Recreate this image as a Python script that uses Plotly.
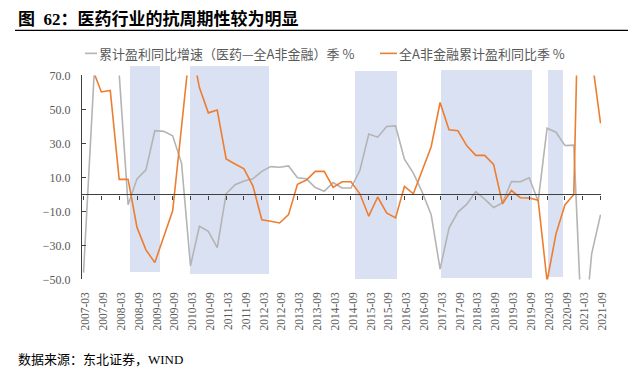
import plotly.graph_objects as go

# ---------------- data ----------------
quarters = [
    "2007-03", "2007-06", "2007-09", "2007-12",
    "2008-03", "2008-06", "2008-09", "2008-12",
    "2009-03", "2009-06", "2009-09", "2009-12",
    "2010-03", "2010-06", "2010-09", "2010-12",
    "2011-03", "2011-06", "2011-09", "2011-12",
    "2012-03", "2012-06", "2012-09", "2012-12",
    "2013-03", "2013-06", "2013-09", "2013-12",
    "2014-03", "2014-06", "2014-09", "2014-12",
    "2015-03", "2015-06", "2015-09", "2015-12",
    "2016-03", "2016-06", "2016-09", "2016-12",
    "2017-03", "2017-06", "2017-09", "2017-12",
    "2018-03", "2018-06", "2018-09", "2018-12",
    "2019-03", "2019-06", "2019-09", "2019-12",
    "2020-03", "2020-06", "2020-09", "2020-12",
    "2021-03", "2021-06", "2021-09",
]
tick_labels = [
    "2007-03", "2007-09", "2008-03", "2008-09", "2009-03", "2009-09",
    "2010-03", "2010-09", "2011-03", "2011-09", "2012-03", "2012-09",
    "2013-03", "2013-09", "2014-03", "2014-09", "2015-03", "2015-09",
    "2016-03", "2016-09", "2017-03", "2017-09", "2018-03", "2018-09",
    "2019-03", "2019-09", "2020-03", "2020-09", "2021-03", "2021-09",
]
# 累计盈利同比增速（医药—全A非金融）季 %
pharma_spread = [
    -46, 55, 150, 110, 71, -6, 9.2, 14.5, 37.5, 37.1,
    34.5, 18.3, -42, -18.7, -21.7, -31.3, 0.4, 5.7, 7.9, 9.2,
    13.6, 16.4, 16.0, 16.8, 9.8, 9.2, 4.1, 1.9, 7.0, 3.8,
    3.8, 14.1, 35.6, 33.7, 40.0, 40.3, 20.7, 12.6, 1.3, -11.9,
    -43.9, -19.8, -10.4, -5.7, 1.7, -2.8, -7.7, -5.0, 7.6, 7.5,
    9.8, -4.0, 39.0, 36.6, 28.8, 29.0, -92, -35, -11.9,
]
# 全A非金融累计盈利同比季 %
all_a_growth = [
    90, 74, 60.3, 61.2, 8.9, 8.9, -19.4, -32.6, -40.1, -25.0,
    -9.6, 40, 90, 62.9, 48.0, 49.7, 20.9, 17.9, 15.1, 5.1,
    -14.9, -15.8, -16.8, -11.9, 6.0, 8.5, 13.6, 13.6, 4.1, 7.5,
    7.5, 0.4, -12.8, -1.5, -10.9, -13.8, 4.7, 0.4, 14.1, 28.1,
    54.1, 38.1, 37.5, 28.6, 23.0, 23.0, 17.7, -5.5, 2.3, -1.9,
    -2.1, -3.4, -51, -23.2, -6.2, 0.0, 230, 81, 41.8,
]
y_ticks = [-50, -30, -10, 10, 30, 50, 70]

# shaded periods (category-index units / value units)
shade_start = [5.2, 12.0, 30.4, 40.07, 52.1]
shade_end = [8.6, 20.85, 35.14, 50.3, 53.8]
shade_bottom = [-46.0, -46.9, -49.9, -49.2, -48.6]
shade_top = [75.7, 75.2, 72.2, 72.9, 72.9]

series_names = ["累计盈利同比增速（医药—全A非金融）季 %", "全A非金融累计盈利同比季 %"]

# ---------------- style ----------------
GRAY = "#B4B4B4"
ORANGE = "#ED7D31"
SHADE = "#D9E1F2"
AXIS = "#404040"
TICKTXT = "#595959"
SERIF = "Liberation Serif, Times New Roman, serif"
CJK = "Liberation Serif, Noto Sans CJK SC, sans-serif"

W, H = 644, 378
# outer paper area (margins) so that every decoration lies inside paper [0, 1]
ML, MR, MT, MB = 15, 16, 5, 5
PL, PR, PT, PB = ML, W - MR, MT, H - MB
# axes area in pixels
AX_L, AX_R = 82, 601
AX_TOP70, AX_BOT = 71, 283               # pixel rows of y = 70 and y = -50
Y_MIN, Y_MAX = -50, 70
xr = [-0.17, 58.05]


def px_x(p):
    return (p - PL) / (PR - PL)


def px_y(p):
    return (PB - p) / (PB - PT)


px_per_unit = (AX_BOT - AX_TOP70) / (Y_MAX - Y_MIN)
shade_axis_top = 76.0
x_dom = [px_x(AX_L), px_x(AX_R)]
y2_dom = [px_y(AX_BOT), px_y(AX_TOP70)]
y1_dom = [px_y(AX_BOT), px_y(AX_BOT - (shade_axis_top - Y_MIN) * px_per_unit)]
zero_pos = px_y(AX_BOT - (0 - Y_MIN) * px_per_unit)

fig = go.Figure()

# shaded bands as bars on a (hidden) taller subplot
fig.add_trace(go.Bar(
    x=[(s + e) / 2 for s, e in zip(shade_start, shade_end)],
    width=[e - s for s, e in zip(shade_start, shade_end)],
    base=shade_bottom,
    y=[t - b for t, b in zip(shade_top, shade_bottom)],
    marker=dict(color=SHADE, line=dict(width=0)),
    xaxis="x", yaxis="y", showlegend=False, hoverinfo="skip",
))

fig.add_trace(go.Scatter(
    x=quarters, y=pharma_spread, mode="lines", name=series_names[0],
    line=dict(color=GRAY, width=1.6), xaxis="x2", yaxis="y2",
))
fig.add_trace(go.Scatter(
    x=quarters, y=all_a_growth, mode="lines", name=series_names[1],
    line=dict(color=ORANGE, width=1.6), xaxis="x2", yaxis="y2",
))

shapes = [
    # title rule
    dict(type="line", xref="paper", yref="paper", x0=px_x(15), x1=px_x(628),
         y0=px_y(24), y1=px_y(24), line=dict(color="#000000", width=1.2),
         layer="above"),
    # legend samples
    dict(type="line", xref="paper", yref="paper", x0=px_x(85), x1=px_x(97),
         y0=px_y(48), y1=px_y(48), line=dict(color=GRAY, width=1.6)),
    dict(type="line", xref="paper", yref="paper", x0=px_x(380), x1=px_x(397),
         y0=px_y(48), y1=px_y(48), line=dict(color=ORANGE, width=1.6)),
]

annotations = [
    dict(text="<b>图\u200262：医药行业的抗周期性较为明显</b>", xref="paper", yref="paper",
         x=px_x(16), y=px_y(12), xanchor="left", yanchor="middle", showarrow=False,
         font=dict(family=CJK, size=17, color="#000000")),
    dict(text=series_names[0], xref="paper", yref="paper",
         x=px_x(97), y=px_y(48), xanchor="left", yanchor="middle", showarrow=False,
         font=dict(family="Noto Sans CJK SC", size=13, color=TICKTXT)),
    dict(text=series_names[1], xref="paper", yref="paper",
         x=px_x(397), y=px_y(48), xanchor="left", yanchor="middle", showarrow=False,
         font=dict(family="Noto Sans CJK SC", size=13, color=TICKTXT)),
    dict(text="数据来源：东北证券，WIND", xref="paper", yref="paper",
         x=px_x(16), y=px_y(366), xanchor="left", yanchor="middle", showarrow=False,
         font=dict(family=CJK, size=13, color="#000000")),
]

fig.update_layout(
    width=W, height=H,
    margin=dict(l=ML, r=MR, t=MT, b=MB, pad=0),
    paper_bgcolor="white", plot_bgcolor="rgba(0,0,0,0)",
    showlegend=False, bargap=0,
    shapes=shapes, annotations=annotations,
    xaxis=dict(domain=x_dom, range=xr, visible=False, fixedrange=True),
    yaxis=dict(domain=y1_dom, range=[Y_MIN, shade_axis_top], visible=False, anchor="x"),
    xaxis2=dict(
        domain=x_dom, range=xr, type="category", anchor="free", position=zero_pos,
        showline=True, linecolor=AXIS, linewidth=1.2,
        ticks="outside", ticklen=4, tickwidth=1, tickcolor=AXIS,
        tickmode="array", tickvals=tick_labels, ticktext=tick_labels,
        tickangle=-90, ticklabelstandoff=88, ticklabelshift=2,
        tickfont=dict(family=SERIF, size=11.5, color=TICKTXT),
        showgrid=False, zeroline=False,
    ),
    yaxis2=dict(
        domain=y2_dom, range=[Y_MIN, Y_MAX], anchor="x2",
        showline=True, linecolor=AXIS, linewidth=1.2,
        ticks="inside", ticklen=4, tickwidth=1, tickcolor=AXIS,
        tickmode="array", tickvals=y_ticks, tickformat=".1f",
        tickfont=dict(family=SERIF, size=12, color=TICKTXT),
        ticklabelstandoff=8,
        showgrid=False, zeroline=False,
    ),
)

fig.write_html(
    "out.html",
    config={"displayModeBar": False},
    post_script="document.body.style.margin='0';document.body.style.overflow='hidden';",
)
